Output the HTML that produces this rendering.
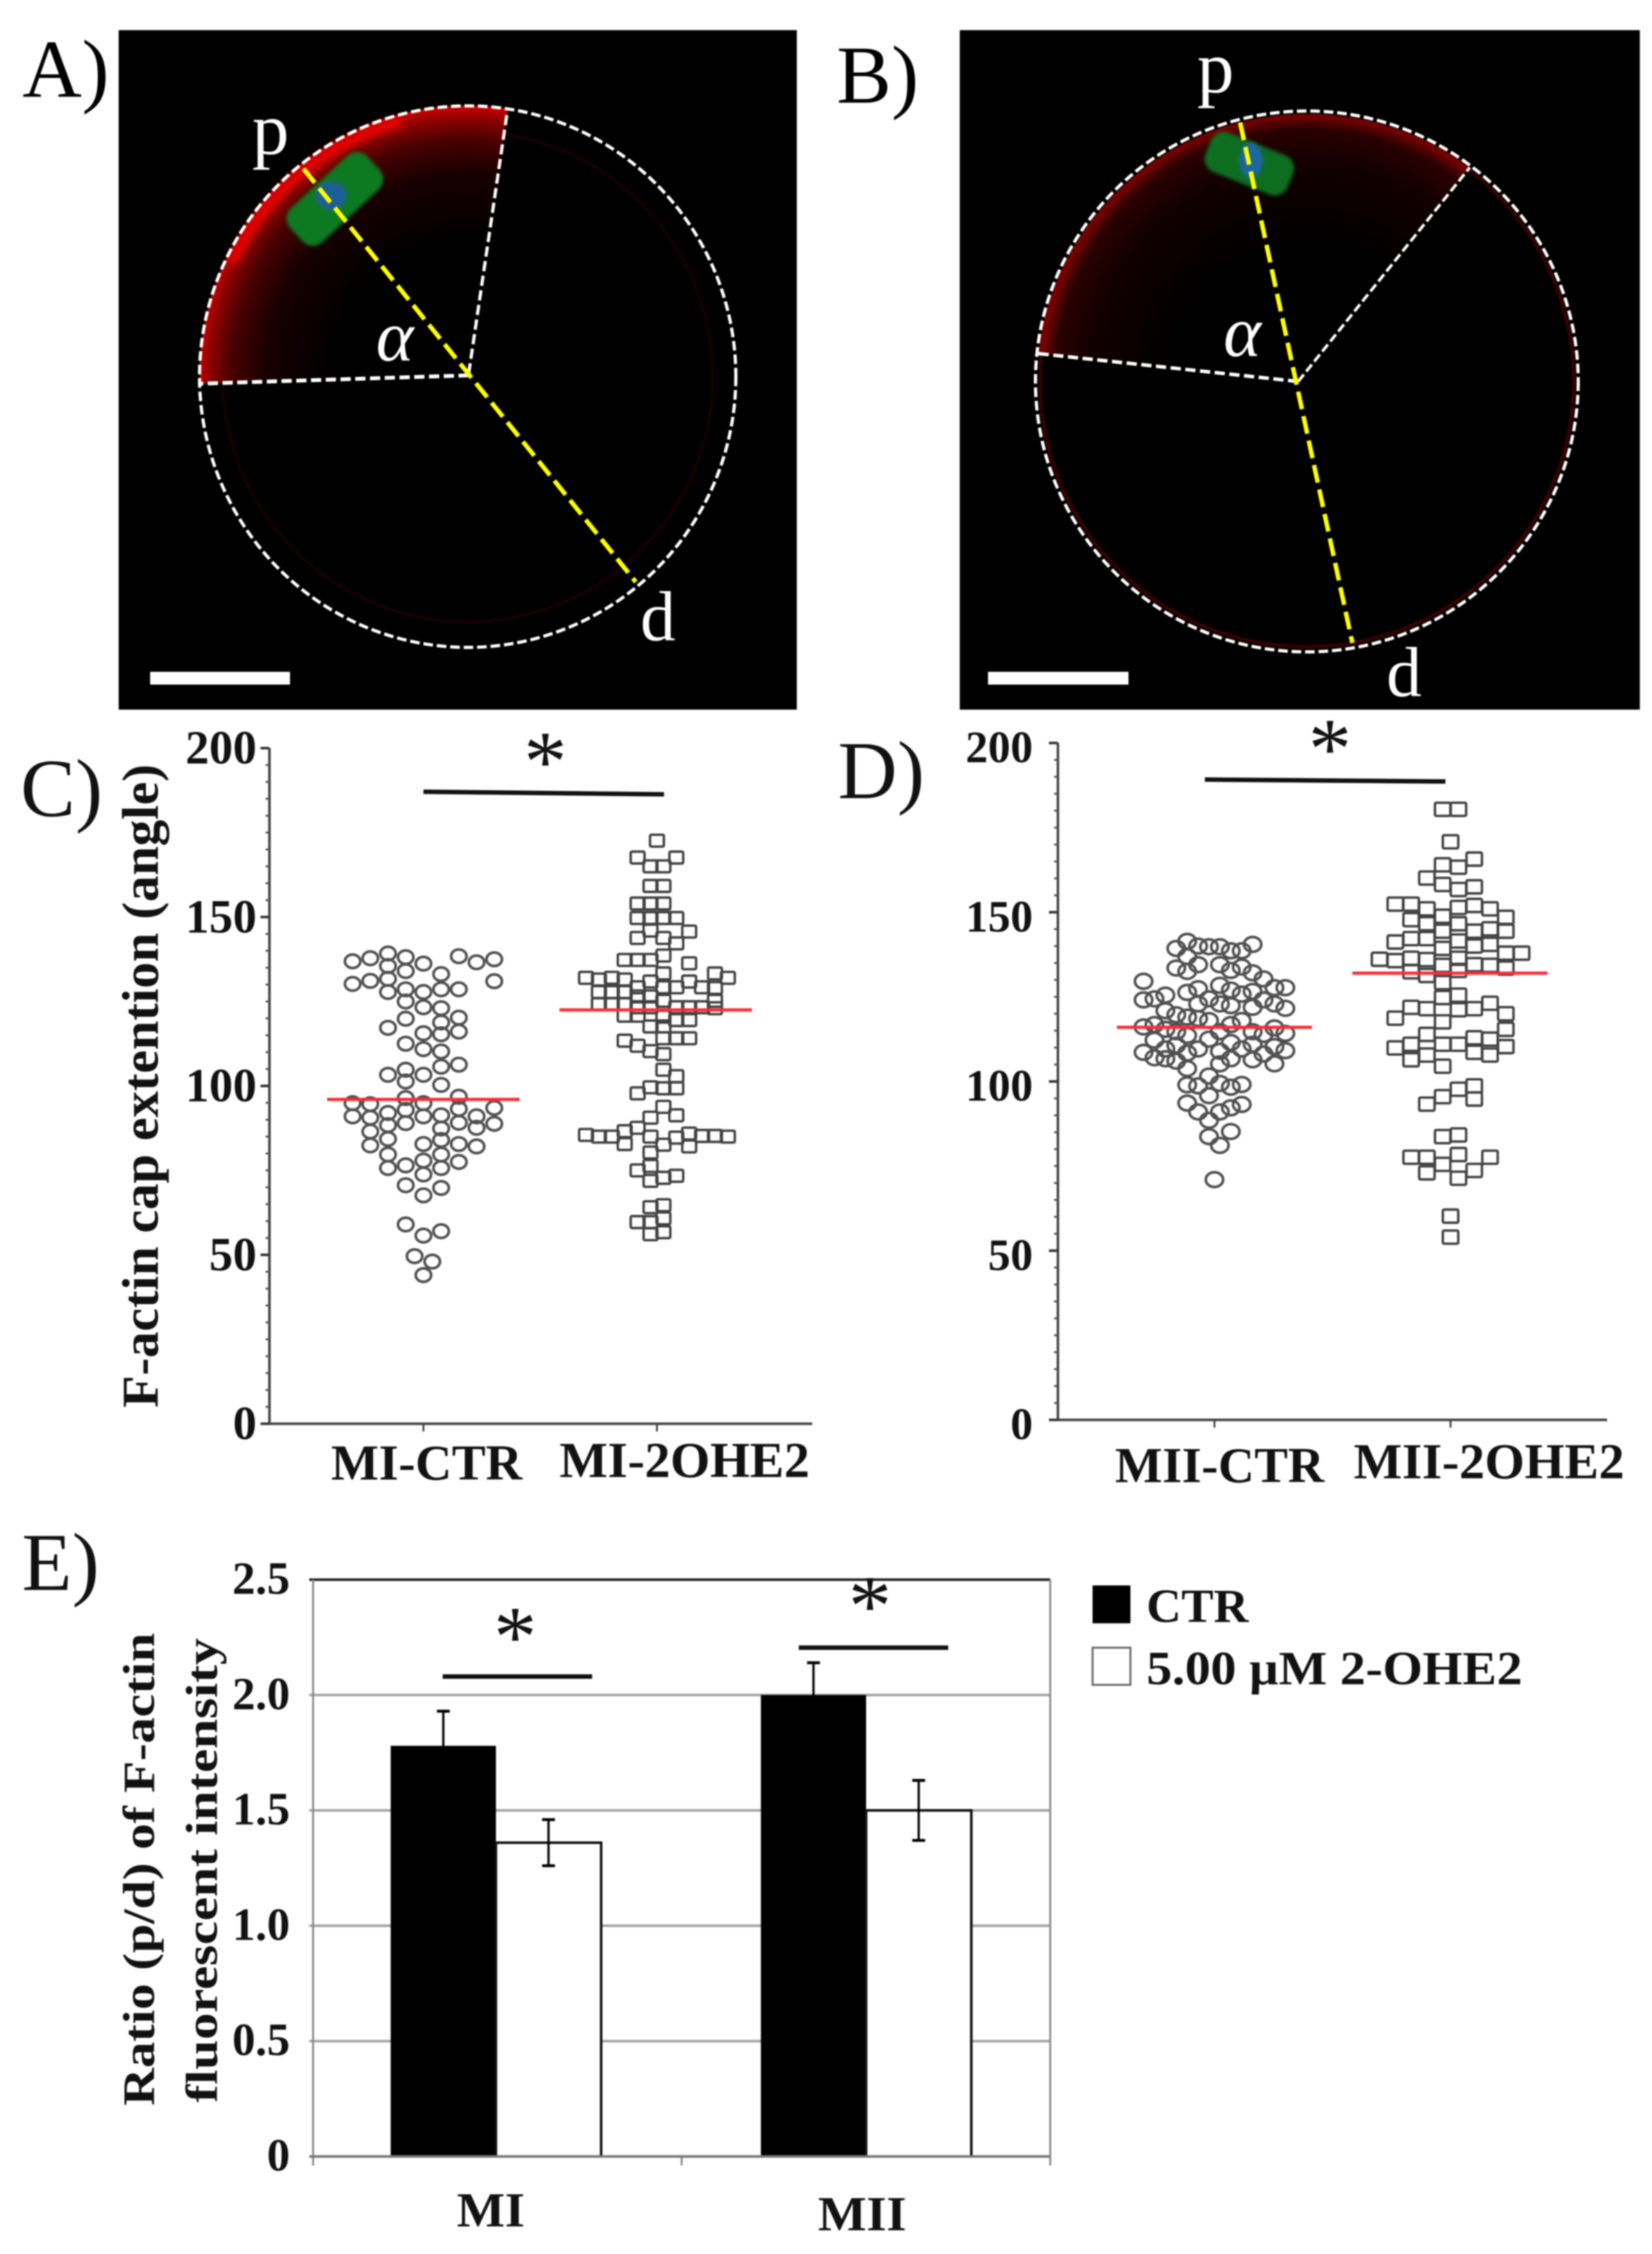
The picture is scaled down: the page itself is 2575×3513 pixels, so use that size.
<!DOCTYPE html>
<html lang="en">
<head>
<meta charset="utf-8">
<title>F-actin cap extension figure</title>
<style>
html,body{margin:0;padding:0;background:#fff;}
#figure{display:block;width:2575px;height:3513px;filter:blur(1.1px);}
text{font-family:"Liberation Serif","DejaVu Serif",serif;}
</style>
</head>
<body>
<svg id="figure" xmlns="http://www.w3.org/2000/svg" width="2575" height="3513" viewBox="0 0 2575 3513">
<defs>
<radialGradient id="capA" gradientUnits="userSpaceOnUse" cx="729" cy="587" r="420">
<stop offset="0.5" stop-color="#000"/><stop offset="0.75" stop-color="#180000"/><stop offset="0.88" stop-color="#4a0000"/><stop offset="0.96" stop-color="#900000"/><stop offset="1" stop-color="#c80000"/>
</radialGradient>
<radialGradient id="capB" gradientUnits="userSpaceOnUse" cx="2037" cy="594" r="422">
<stop offset="0.5" stop-color="#000"/><stop offset="0.8" stop-color="#120000"/><stop offset="0.93" stop-color="#2a0000"/><stop offset="0.985" stop-color="#7a0000"/><stop offset="1" stop-color="#600000"/>
</radialGradient>
<filter id="soft" x="-30%" y="-30%" width="160%" height="160%"><feGaussianBlur stdDeviation="3"/></filter>
<filter id="soft2" x="-30%" y="-30%" width="160%" height="160%"><feGaussianBlur stdDeviation="6"/></filter>
</defs>
<rect width="2575" height="3513" fill="#fff"/>

<g>
<rect x="185" y="47" width="1057" height="1059" fill="#000"/>
<ellipse cx="729" cy="587" rx="382" ry="382" fill="none" stroke="#1c0000" stroke-width="4"/>
<path d="M730.6 582 L311 598 A418 422 0 0 1 791.5 169 Z" fill="url(#capA)"/>
<path d="M362 410 A408 412 0 0 1 625 190" fill="none" stroke="#f00000" stroke-width="14" filter="url(#soft2)"/>
<rect x="440" y="274" width="164" height="72" rx="22" transform="rotate(-43 522 310)" fill="#0b7a22" filter="url(#soft)"/>
<ellipse cx="516" cy="305" rx="24" ry="22" fill="#1f5f98" filter="url(#soft)"/>
<ellipse cx="729" cy="587" rx="418" ry="422" fill="none" stroke="#fff" stroke-width="5" stroke-dasharray="15 6"/>
<line x1="730.6" y1="582" x2="791.5" y2="169" stroke="#fff" stroke-width="5" stroke-dasharray="16 7"/>
<line x1="730.6" y1="585" x2="311" y2="598" stroke="#fff" stroke-width="6" stroke-dasharray="16 7"/>
<line x1="473" y1="263" x2="991" y2="907" stroke="#ffff00" stroke-width="7" stroke-dasharray="28 11"/>
<rect x="234" y="1047" width="218" height="20" fill="#fff"/>
<text x="393" y="240" font-size="115" fill="#fff">p</text>
<text x="998" y="998" font-size="110" fill="#fff">d</text>
<text x="586" y="562" font-size="112" font-style="italic" fill="#fff">α</text>
<text x="35" y="151" font-size="128">A)</text>
</g>

<g>
<rect x="1496" y="47" width="1060" height="1059" fill="#000"/>
<ellipse cx="2037" cy="594" rx="416" ry="414" fill="none" stroke="#3a0000" stroke-width="5"/>
<path d="M2023.5 594.6 L1618 551 A423 421.5 0 0 1 2291 261 Z" fill="url(#capB)"/>
<rect x="1878" y="222" width="138" height="66" rx="22" transform="rotate(22 1947 256)" fill="#0b6e20" filter="url(#soft)"/>
<ellipse cx="1950" cy="250" rx="18" ry="28" fill="#1f66a0" filter="url(#soft)"/>
<ellipse cx="2037" cy="594.5" rx="423" ry="421.5" fill="none" stroke="#fff" stroke-width="5" stroke-dasharray="15 6"/>
<line x1="2023.5" y1="594.6" x2="2291" y2="261" stroke="#fff" stroke-width="4.5" stroke-dasharray="14 6"/>
<line x1="2023.5" y1="594.6" x2="1618" y2="551" stroke="#fff" stroke-width="5.5" stroke-dasharray="16 7"/>
<line x1="1933" y1="191" x2="2108" y2="1002" stroke="#ffff00" stroke-width="7" stroke-dasharray="28 11"/>
<rect x="1540" y="1047" width="219" height="20" fill="#fff"/>
<text x="1866" y="144" font-size="115" fill="#fff">p</text>
<text x="2161" y="1085" font-size="110" fill="#fff">d</text>
<text x="1907" y="555" font-size="112" font-style="italic" fill="#fff">α</text>
<text x="1304" y="160" font-size="128">B)</text>
</g>
<g id="charts"></g>
</svg>
<script>
// ---------- Panel C ----------
const angleTicks = [0, 50, 100, 150, 200];
const miCtrColumns = [-4,-4,-4,-4,-3,-3,-3,-3,-3,-3,-2,-2,-2,-2,-2,-2,-2,-2,-2,-2,-2,-1,-1,-1,-1,-1,-1,-1,-1,-1,-1,-1,-1,-1,-1,0,0,0,0,0,0,0,0,0,0,0,0,0,0,-0.5,0.5,1,1,1,1,1,1,1,1,1,1,1,1,1,1,1,2,2,2,2,2,2,2,2,2,2,3,3,3,3,4,4,4,4];
const miCtrValues = [136.9,130.2,94.9,91,137.8,131.1,94.6,90.6,86.5,82.4,139.2,135.5,131.7,127.8,117.2,103.3,92,88.4,84.3,79.7,75.7,138.1,134,128.6,125,119.9,112.5,104.8,101.3,96.4,92.9,89,76.5,70.6,59,136.2,127.8,123.3,115.6,110.9,103.3,94.9,91,82.8,77.9,73.8,67.6,55.7,44,49.6,48,133.1,128.6,123,118.8,115.3,110.2,105.7,100.3,91.3,87.4,84,79.7,75.7,69.8,57,138.4,128.6,120.2,116.1,106.3,96.8,93.2,89.1,82.8,77.5,136.6,91,87.6,82.1,137.5,131,93.5,88.8];
const mi2oheColumns = [0,-1.5,1.5,-0.5,0.5,-0.5,0.5,-1.5,-0.5,0.5,-1.5,-0.5,0.5,1.5,2.5,-0.5,-1.5,0.5,1.5,0.5,-2.5,-1.5,-0.5,2.5,0.5,4.5,-5.5,-4.5,-3.5,-2.5,5.5,-0.5,2.5,0.5,-1.5,1.5,3.5,4.5,-4.5,-3.5,-2.5,-0.5,-1.5,0.5,4.5,-4.5,-3.5,-2.5,-1.5,-0.5,1.5,2.5,3.5,4.5,-2.5,-1.5,0.5,1.5,2.5,-0.5,0.5,0.5,1.5,2.5,-2.5,-1.5,-0.5,0.5,0.5,1.5,1.5,0.5,-0.5,-1.5,0.5,1.5,-0.5,-1.5,-2.5,-5.5,-4.5,-3.5,-2.5,-0.5,0.5,1.5,2.5,2.5,3.5,4.5,5.5,-0.5,-0.5,-1.5,-0.5,0.5,1.5,-0.5,0.5,-1.5,-0.5,0.5,-0.5,0.5];
const mi2oheValues = [172.6,167.6,167.6,165,165,159.2,159.2,154,154,154,149.7,149.7,149.7,149.7,145.7,146,143.8,143.8,142.2,138.6,137.3,137.3,137.3,136.3,133.3,133.3,132,131.5,132,131.5,132,130.9,130.9,129.2,129.2,129.2,129.2,129,127.8,127.8,127.8,126.5,126.5,125.2,125.2,124.2,124.2,124.2,123.3,123.3,123.3,123.3,123.3,123,120.8,120.8,120.5,119.5,119.5,117.6,117.6,114.1,114.1,114.1,113.4,111.9,110.3,109.4,104.8,102.9,99.3,99.3,99.6,97.8,93.8,91.3,90.6,87.6,86.6,85.5,85,85,82.8,85,82.6,84.7,85.9,82.1,85.2,85.2,85,80.3,76.3,75,71.9,72.8,73.4,64.1,64.7,59.7,59.7,60.8,56.1,56.7];
const miMeans = [96, 122.5];
const miCategories = ["MI-CTR", "MI-2OHE2"];

// ---------- Panel D ----------
const miiCtrColumns = [-6.5,-6.5,-6.5,-6.5,-5.5,-5.5,-5.5,-5.5,-4.5,-4.5,-4.5,-4.5,-4.5,-3.5,-3.5,-3.5,-3.5,-3.5,-3.5,-2.5,-2.5,-2.5,-2.5,-2.5,-2.5,-2.5,-2.5,-2.5,-2.5,-1.5,-1.5,-1.5,-1.5,-1.5,-1.5,-1.5,-1.5,-0.5,-0.5,-0.5,-0.5,-0.5,-0.5,-0.5,-0.5,0,0.5,0.5,0.5,0.5,0.5,0.5,0.5,0.5,0.5,0.5,1.5,1.5,1.5,1.5,1.5,1.5,1.5,1.5,1.5,1.5,2.5,2.5,2.5,2.5,2.5,2.5,2.5,3.5,3.5,3.5,3.5,3.5,3.5,3.5,4.5,4.5,4.5,4.5,5.5,5.5,5.5,5.5,5.5,6.5,6.5,6.5,6.5];
const miiCtrValues = [129.6,124.1,116.1,108.6,124.4,116.8,112.2,107,125.5,120.9,115.4,109.6,106.7,139.3,133.5,119.7,114.7,110.7,106,141.4,136.9,132.5,126.3,119,113.6,108.4,103.8,99,93.6,140,134.5,127.4,122.9,118.6,109.6,98.7,91,139.8,124.4,118,112.5,101.6,95.8,88.5,83.7,71,139.8,134.5,128.4,122.9,114.7,108.9,105.2,99.4,91,81.1,138.6,132.8,127,122.4,116.8,111.5,106.7,98.3,92.2,85.2,138.6,133.8,125.8,118,109.6,99.1,93.2,140.5,132.1,126.6,121.9,114.7,111,106.4,130.3,124.1,113.9,108.1,127.7,122.9,115.8,110.3,105.2,127.7,121.6,114.2,109.1];
const mii2oheColumns = [-0.5,0.5,0,1.5,-0.5,0.5,-1.5,-0.5,1.5,0.5,-3.5,-2.5,-1.5,0.5,1.5,2.5,-2.5,-1.5,-0.5,0.5,1.5,2.5,3.5,3.5,-2.5,-3.5,-1.5,-0.5,0.5,1.5,2.5,-0.5,-4.5,-3.5,-2.5,-1.5,-0.5,0.5,1.5,2.5,3.5,4.5,3.5,-2.5,-1.5,0.5,-0.5,-0.5,0.5,2.5,-2.5,-1.5,1.5,0.5,3.5,-3.5,-0.5,3.5,-1.5,1.5,2.5,-2.5,-0.5,0.5,3.5,-3.5,-1.5,1.5,2.5,-2.5,-0.5,1.5,0.5,-0.5,1.5,-1.5,-0.5,0.5,-2.5,-1.5,-0.5,0.5,2.5,1.5,-1.5,0.5,0,0];
const mii2oheValues = [180.4,180.4,170.8,165.7,164,163.3,160.1,158.2,157.5,156.7,152.4,152.4,151,151.4,152,151,147.8,146.6,148.8,146.6,144.4,145.1,148.5,144.4,142.2,141.2,142.2,144.4,141.5,140,140.5,139.3,136.1,135.7,136.4,136,134.3,136.4,134.5,134.3,137.9,137.9,133.5,132.4,131.3,132.8,129.2,124.8,125.5,123.1,121.9,121.5,121.5,121.2,120,118.7,117.6,115.4,113.9,112.9,112.5,111,111,111,110.3,109.9,107.8,108.6,107.8,106.4,104.5,98.7,97.7,95.5,94.8,93.3,83.7,84.2,77.6,77.6,75.5,78.4,77.6,73.7,73,71.4,60.2,54];
const miiMeans = [116, 132];
const miiCategories = ["MII-CTR", "MII-2OHE2"];

// ---------- Panel E ----------
const stages = ["MI", "MII"];
const ctrRatios = [1.78, 2.0];
const ctrErrors = [0.15, 0.14];
const treatedRatios = [1.36, 1.5];
const treatedErrors = [0.1, 0.13];
const ratioTicks = [0, 0.5, 1.0, 1.5, 2.0, 2.5];
const ratioTickLabels = ["0", "0.5", "1.0", "1.5", "2.0", "2.5"];

const NS = "http://www.w3.org/2000/svg";
const root = document.getElementById("charts");

function linear(d0, d1, r0, r1) {
  return function (v) { return r0 + (v - d0) * (r1 - r0) / (d1 - d0); };
}
function make(tag, attrs, parent) {
  const el = document.createElementNS(NS, tag);
  for (const k in attrs) el.setAttribute(k, attrs[k]);
  parent.appendChild(el);
  return el;
}
function makeText(str, attrs, parent) {
  const el = make("text", attrs, parent);
  el.textContent = str;
  return el;
}

function drawSwarm(cfg) {
  const g = make("g", {}, root);
  
  
  const y = linear(0, 200, cfg.y0, cfg.y200);

  const yAxis = make("line", {x1: cfg.axisX, y1: cfg.y200, x2: cfg.axisX, y2: cfg.y0, stroke: "#444", "stroke-width": 4}, g);
  
  
  const xAxis = make("line", {x1: cfg.axisX, y1: cfg.y0, x2: cfg.axisEnd, y2: cfg.y0, stroke: "#444", "stroke-width": 4}, g);
  
  

  for (let v = 0; v <= 200; v += 5) {
    const minor = make("line", {x1: cfg.axisX - 6, y1: y(v), x2: cfg.axisX, y2: y(v), stroke: "#555", "stroke-width": 3}, g);
    
    
  }
  angleTicks.forEach(function (t) {
    const tick = make("line", {x1: cfg.axisX - 14, y1: y(t), x2: cfg.axisX, y2: y(t), stroke: "#333", "stroke-width": 4}, g);
    
    
    const label = makeText(String(t), {x: cfg.axisX - cfg.labelGap, y: y(t) + cfg.labelDy, "font-size": cfg.tickFont, "font-weight": "bold", "text-anchor": "end", fill: "#111"}, g);
    
    
  });

  cfg.catX.forEach(function (cx, i) {
    const tick = make("line", {x1: cx, y1: cfg.y0, x2: cx, y2: cfg.y0 + 12, stroke: "#444", "stroke-width": 3}, g);
    
    
    const label = makeText(cfg.categories[i], {x: cfg.catLabelX[i], y: cfg.catLabelY[i], "font-size": 78, "font-weight": "bold", textLength: cfg.catLabelW[i], lengthAdjust: "spacingAndGlyphs", fill: "#111"}, g);
    
    
  });

  cfg.ctrValues.forEach(function (v, i) {
    const dot = make("ellipse", {cx: cfg.catX[0] + cfg.ctrColumns[i] * cfg.ctrStep, cy: y(v), rx: cfg.rx, ry: cfg.ry, fill: "none", stroke: "#505050", "stroke-width": 4.2}, g);
    
    
  });
  cfg.treatedValues.forEach(function (v, i) {
    const sq = make("rect", {x: cfg.catX[1] + cfg.treatedColumns[i] * cfg.treatedStep - cfg.sqW / 2, y: y(v) - cfg.sqH / 2, width: cfg.sqW, height: cfg.sqH, rx: 2, fill: "none", stroke: "#404040", "stroke-width": 3.8}, g);
    
    
  });

  cfg.means.forEach(function (m, i) {
    const cx = cfg.meanCenter[i];
    const mean = make("line", {x1: cx - cfg.meanHalf, y1: y(m), x2: cx + cfg.meanHalf, y2: y(m), stroke: "#ff2a35", "stroke-width": 5}, g);
    
    
  });

  const sig = make("line", {x1: cfg.sigX[0], y1: cfg.sigY[0], x2: cfg.sigX[1], y2: cfg.sigY[1], stroke: "#111", "stroke-width": 7}, g);
  
  
  const star = makeText("*", {x: cfg.starX, y: cfg.starY, "font-size": 135, "text-anchor": "middle", fill: "#111"}, g);
  
  
}

drawSwarm({
  name: "panel-c-chart", axisX: 420, axisEnd: 1266, y0: 2219, y200: 1166,
  labelGap: 20, labelDy: 24, tickFont: 74,
  catX: [660, 1024], categories: miCategories,
  catLabelX: [516, 872], catLabelY: [2306, 2302], catLabelW: [298, 390],
  ctrValues: miCtrValues, ctrColumns: miCtrColumns, ctrStep: 27.6, rx: 12, ry: 10.5,
  treatedValues: mi2oheValues, treatedColumns: mi2oheColumns, treatedStep: 20.1, sqW: 21.5, sqH: 18.5,
  means: miMeans, meanCenter: [660, 1022], meanHalf: 150,
  sigX: [660, 1035], sigY: [1234, 1238], starX: 850, starY: 1232
});
drawSwarm({
  name: "panel-d-chart", axisX: 1649, axisEnd: 2505, y0: 2213, y200: 1158,
  labelGap: 39, labelDy: 30, tickFont: 70,
  catX: [1893, 2261], categories: miiCategories,
  catLabelX: [1738, 2110], catLabelY: [2310, 2304], catLabelW: [326, 422],
  ctrValues: miiCtrValues, ctrColumns: miiCtrColumns, ctrStep: 17, rx: 13.5, ry: 11.5,
  treatedValues: mii2oheValues, treatedColumns: mii2oheColumns, treatedStep: 24.6, sqW: 24, sqH: 20.5,
  means: miiMeans, meanCenter: [1893, 2260], meanHalf: 152,
  sigX: [1878, 2253], sigY: [1215, 1218], starX: 2073, starY: 1212
});

// Panel-level text for C and D
const titleC = makeText("F-actin cap extention (angle)", {x: 0, y: 0, transform: "translate(246 2194) rotate(-90)", "font-size": 80, "font-weight": "bold", textLength: 1003, lengthAdjust: "spacingAndGlyphs", fill: "#111"}, root);


const labelC = makeText("C)", {x: 32, y: 1272, "font-size": 128, fill: "#111"}, root);


const labelD = makeText("D)", {x: 1306, y: 1244, "font-size": 128, fill: "#111"}, root);



// Panel E
const gE = make("g", {}, root);


const yE = linear(0, 2.5, 3361, 2462);
const xLeft = 488, xRight = 1637;
const groupX = [691, 1268];
const barW = 164;

ratioTicks.forEach(function (t, i) {
  const top = t === 2.5;
  const grid = make("line", {x1: xLeft - 6, y1: yE(t), x2: xRight, y2: yE(t), stroke: top ? "#222" : "#a3a3a3", "stroke-width": 4}, gE);
  
  
  const label = makeText(ratioTickLabels[i], {x: 452, y: yE(t) + 22, "font-size": 72, "font-weight": "bold", "text-anchor": "end", fill: "#111"}, gE);
  
  
});
const leftAxis = make("line", {x1: xLeft, y1: yE(2.5), x2: xLeft, y2: yE(0) + 14, stroke: "#888", "stroke-width": 3}, gE);


const rightAxis = make("line", {x1: xRight, y1: yE(2.5), x2: xRight, y2: yE(0) + 14, stroke: "#888", "stroke-width": 3}, gE);


const midTick = make("line", {x1: (xLeft + xRight) / 2, y1: yE(0), x2: (xLeft + xRight) / 2, y2: yE(0) + 14, stroke: "#888", "stroke-width": 3}, gE);



function drawError(cx, v, e) {
  const stem = make("line", {x1: cx, y1: yE(v - e), x2: cx, y2: yE(v + e), stroke: "#000", "stroke-width": 3.5}, gE);
  
  
  const capHi = make("line", {x1: cx - 10, y1: yE(v + e), x2: cx + 10, y2: yE(v + e), stroke: "#000", "stroke-width": 4.5}, gE);
  
  
  const capLo = make("line", {x1: cx - 10, y1: yE(v - e), x2: cx + 10, y2: yE(v - e), stroke: "#000", "stroke-width": 4.5}, gE);
  
  
}
stages.forEach(function (stage, i) {
  const bx = groupX[i] - barW / 2;
  const ctrBar = make("rect", {x: bx, y: yE(ctrRatios[i]), width: barW, height: yE(0) - yE(ctrRatios[i]), fill: "#000"}, gE);
  
  
  const trBar = make("rect", {x: bx + barW, y: yE(treatedRatios[i]), width: barW, height: yE(0) - yE(treatedRatios[i]), fill: "#fff", stroke: "#111", "stroke-width": 4}, gE);
  
  
  drawError(groupX[i], ctrRatios[i], ctrErrors[i]);
  drawError(groupX[i] + barW, treatedRatios[i], treatedErrors[i]);
});
const baseE = make("line", {x1: xLeft - 6, y1: yE(0), x2: xRight, y2: yE(0), stroke: "#777", "stroke-width": 4}, gE);



const catMI = makeText(stages[0], {x: 712, y: 3470, "font-size": 76, "font-weight": "bold", textLength: 106, lengthAdjust: "spacingAndGlyphs", fill: "#111"}, gE);


const catMII = makeText(stages[1], {x: 1275, y: 3476, "font-size": 76, "font-weight": "bold", textLength: 138, lengthAdjust: "spacingAndGlyphs", fill: "#111"}, gE);



const sigE1 = make("line", {x1: 690, y1: 2613, x2: 923, y2: 2613, stroke: "#111", "stroke-width": 7}, gE);


const starE1 = makeText("*", {x: 803, y: 2596, "font-size": 135, "text-anchor": "middle", fill: "#111"}, gE);


const sigE2 = make("line", {x1: 1245, y1: 2568, x2: 1478, y2: 2568, stroke: "#111", "stroke-width": 7}, gE);


const starE2 = makeText("*", {x: 1356, y: 2548, "font-size": 135, "text-anchor": "middle", fill: "#111"}, gE);



const titleE1 = makeText("Ratio (p/d) of F-actin", {x: 0, y: 0, transform: "translate(240 3282) rotate(-90)", "font-size": 70, "font-weight": "bold", textLength: 737, lengthAdjust: "spacingAndGlyphs", fill: "#111"}, gE);


const titleE2 = makeText("fluorescent intensity", {x: 0, y: 0, transform: "translate(338 3277) rotate(-90)", "font-size": 70, "font-weight": "bold", textLength: 724, lengthAdjust: "spacingAndGlyphs", fill: "#111"}, gE);



const labelE = makeText("E)", {x: 34, y: 2478, "font-size": 128, fill: "#111"}, gE);



const legendCtr = make("rect", {x: 1703, y: 2471, width: 59, height: 59, fill: "#000"}, gE);


const legendCtrText = makeText("CTR", {x: 1787, y: 2528, "font-size": 74, "font-weight": "bold", textLength: 159, lengthAdjust: "spacingAndGlyphs", fill: "#111"}, gE);


const legendTr = make("rect", {x: 1703, y: 2568, width: 59, height: 58, fill: "#fff", stroke: "#666", "stroke-width": 3}, gE);


const legendTrText = makeText("5.00 µM 2-OHE2", {x: 1787, y: 2625, "font-size": 74, "font-weight": "bold", textLength: 586, lengthAdjust: "spacingAndGlyphs", fill: "#111"}, gE);


</script>
</body>
</html>
